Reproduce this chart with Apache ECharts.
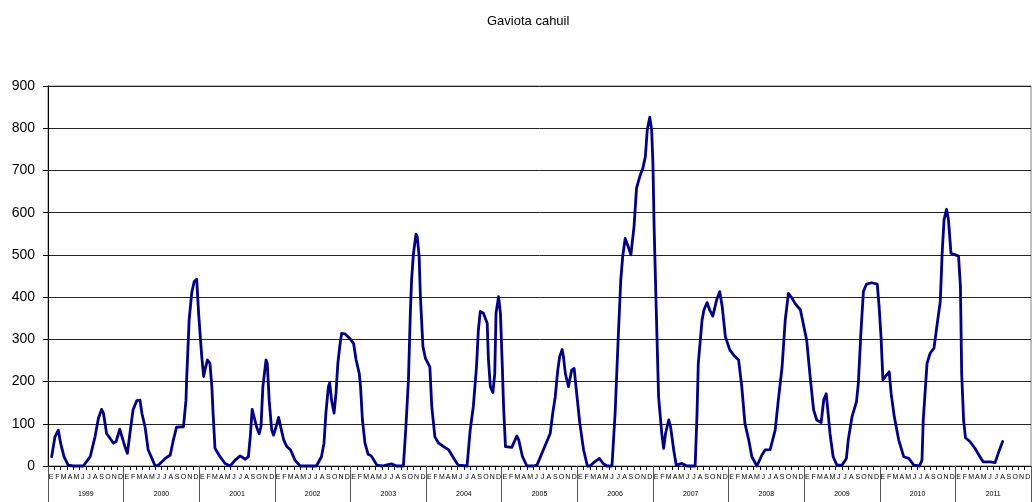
<!DOCTYPE html>
<html>
<head>
<meta charset="utf-8">
<script src="https://cdn.jsdelivr.net/npm/echarts@6/dist/echarts.min.js"></script>
<style>html,body{margin:0;padding:0;background:#fff;}#c{width:1032px;height:502px;}</style>
</head>
<body>
<div id="c"></div>
<script>
// Tick labels
var monthLetters = ['E','F','M','A','M','J','J','A','S','O','N','D'];
var years = ['1999','2000','2001','2002','2003','2004','2005','2006','2007','2008','2009','2010','2011'];
var yTicks = { min: 0, max: 900, step: 100 };

// Series values per year: [month offset within year, value]
var y1999 = [[0.58,22],[1.1,69],[1.64,85],[2.0,54],[2.54,22],[3.2,2],[4.0,0],[5.6,0],[6.7,22],[7.46,69],[8.0,113],[8.5,134],[8.8,125],[9.3,77],[10.4,54],[10.8,58],[11.4,87],[11.7,85]];
var y2000 = [[0.2,46],[0.6,30],[1.0,77],[1.5,133],[2.1,155],[2.6,156],[2.9,125],[3.4,93],[3.9,38],[4.5,18],[5.0,0],[5.5,2],[6.6,18],[7.4,26],[7.9,62],[8.4,92],[9.5,93],[9.9,156],[10.0,204],[10.4,346],[10.8,409],[11.2,437],[11.6,442],[11.9,362]];
var y2001 = [[0.4,259],[0.7,212],[0.9,227],[1.3,251],[1.7,243],[2.0,188],[2.2,125],[2.5,42],[3.3,22],[4.1,6],[4.9,0],[5.7,14],[6.5,24],[7.3,16],[7.8,22],[8.1,69],[8.4,134],[8.7,133],[9.1,93],[9.5,76],[9.8,93],[10.1,188],[10.6,251],[10.8,243],[11.1,156],[11.5,85],[11.8,73]];
var y2002 = [[0.2,93],[0.6,115],[0.8,101],[1.4,62],[1.9,46],[2.5,38],[3.2,14],[4.0,0],[5.1,0],[6.6,0],[7.4,22],[7.8,54],[8.1,125],[8.5,188],[8.7,197],[9.0,156],[9.4,125],[9.7,172],[10.0,243],[10.3,283],[10.6,314],[11.1,313],[11.9,302]];
var y2003 = [[0.5,290],[0.9,251],[1.4,219],[1.6,188],[1.9,109],[2.3,54],[2.8,28],[3.3,24],[3.6,22],[4.2,2],[5.0,0],[6.5,5],[7.3,0],[8.4,0],[8.8,93],[9.2,204],[9.5,362],[9.7,441],[10.0,504],[10.4,549],[10.6,543],[10.9,496],[11.1,401],[11.5,283],[11.9,255]];
var y2004 = [[0.6,235],[0.9,141],[1.4,69],[2.0,54],[2.8,46],[3.6,38],[4.4,18],[5.1,2],[6.5,0],[7.0,85],[7.5,141],[8.0,235],[8.3,322],[8.6,366],[9.1,362],[9.7,338],[9.9,251],[10.2,188],[10.6,174],[10.9,219],[11.1,362],[11.5,401],[11.8,362]];
var y2005 = [[0.1,235],[0.3,141],[0.6,46],[1.6,44],[2.4,71],[2.7,62],[3.3,22],[4.0,0],[5.0,0],[5.6,2],[6.6,38],[7.7,77],[8.1,125],[8.5,164],[8.9,227],[9.2,259],[9.6,276],[9.8,259],[10.1,219],[10.6,188],[11.1,227],[11.5,231],[11.9,172]];
var y2006 = [[0.4,101],[1.0,38],[1.6,0],[2.0,0],[2.6,8],[3.5,18],[4.1,6],[4.7,0],[5.5,0],[6.0,125],[6.5,306],[6.9,441],[7.2,496],[7.6,539],[8.0,523],[8.5,500],[9.0,567],[9.4,658],[9.9,685],[10.4,705],[10.8,733],[11.1,796],[11.5,826],[11.8,796]];
var y2007 = [[0.0,717],[0.2,559],[0.5,385],[0.9,164],[1.4,77],[1.7,42],[2.0,77],[2.5,109],[2.8,93],[3.3,38],[3.7,2],[4.6,6],[5.4,0],[6.7,0],[7.0,125],[7.2,243],[7.8,346],[8.1,370],[8.6,387],[9.0,370],[9.5,355],[10.1,393],[10.6,413],[11.0,377],[11.5,306]];
var y2008 = [[0.2,275],[0.8,263],[1.6,251],[2.1,188],[2.6,101],[3.2,62],[3.7,22],[4.5,0],[5.3,26],[5.8,38],[6.6,39],[7.4,85],[7.9,156],[8.5,235],[9.0,346],[9.5,409],[10.0,399],[10.6,384],[11.4,370]];
var y2009 = [[0.4,298],[1.0,204],[1.5,133],[2.0,109],[2.7,103],[3.1,156],[3.5,171],[3.8,125],[4.1,77],[4.6,22],[5.2,2],[6.0,2],[6.7,18],[7.0,62],[7.6,117],[8.3,152],[8.6,196],[9.0,314],[9.4,413],[9.9,431],[10.7,434],[11.6,431],[11.9,377]];
var y2010 = [[0.2,306],[0.5,204],[0.9,212],[1.5,223],[1.8,172],[2.3,117],[3.0,62],[3.8,22],[4.6,18],[5.4,2],[6.3,0],[6.7,14],[6.9,109],[7.5,243],[8.0,267],[8.6,279],[9.2,346],[9.6,389],[9.9,504],[10.2,583],[10.6,608],[10.9,583],[11.3,504]];
var y2011 = [[0.0,500],[0.5,497],[0.8,425],[1.0,219],[1.3,109],[1.6,67],[2.3,58],[3.1,42],[3.9,22],[4.4,10],[5.5,10],[6.3,8],[6.8,30],[7.5,58]];

var yearSeries = [y1999,y2000,y2001,y2002,y2003,y2004,y2005,y2006,y2007,y2008,y2009,y2010,y2011];

// Build data for the library
var monthCats = [];
years.forEach(function(){ monthLetters.forEach(function(m){ monthCats.push(m); }); });
var lineData = [];
yearSeries.forEach(function(arr, k){
  arr.forEach(function(p){ lineData.push([k*12 + p[0], p[1]]); });
});

var chart = echarts.init(document.getElementById('c'), null, {renderer:'canvas'});
var font = 'Liberation Sans, Arial, sans-serif';
chart.setOption({
  animation: false,
  backgroundColor: '#fff',
  title: {
    text: 'Gaviota cahuil', left: 482, top: 10,
    textStyle: { fontFamily: font, fontSize: 13, fontWeight: 'normal', color: '#000' }
  },
  grid: { left: 48, right: 1, top: 86, bottom: 36, containLabel: false, outerBoundsMode: 'none',
          show: true, borderColor: '#808080', borderWidth: 1 },
  xAxis: [
    { type: 'value', min: 0, max: years.length*12, show: false },
    { type: 'category', data: monthCats, position: 'bottom', boundaryGap: true,
      axisLine: { show: true, lineStyle: { color: '#000', width: 1 } },
      axisTick: { show: true, interval: 0, length: 4, lineStyle: { color: '#000' } },
      axisLabel: { interval: 0, fontSize: 7, margin: 8, color: '#000', fontFamily: font },
      splitLine: { show: false } },
    { type: 'category', data: years, position: 'bottom', boundaryGap: true,
      axisLine: { show: false },
      axisTick: { show: true, interval: 0, length: 36, lineStyle: { color: '#555' } },
      axisLabel: { interval: 0, fontSize: 7, margin: 25, color: '#000', fontFamily: font },
      splitLine: { show: false } }
  ],
  yAxis: {
    type: 'value', min: yTicks.min, max: yTicks.max, interval: yTicks.step,
    axisLine: { show: true, lineStyle: { color: '#000' } },
    axisTick: { show: true, length: 5, lineStyle: { color: '#000' } },
    axisLabel: { fontSize: 14, margin: 13, color: '#000', fontFamily: font },
    splitLine: { show: true, lineStyle: { color: '#222', width: 1 } }
  },
  series: [{
    type: 'line', xAxisIndex: 0, data: lineData, showSymbol: false, smooth: false,
    lineStyle: { color: '#000080', width: 2.8, cap: 'round', join: 'round' }, clip: false
  }]
});
</script>
</body>
</html>
